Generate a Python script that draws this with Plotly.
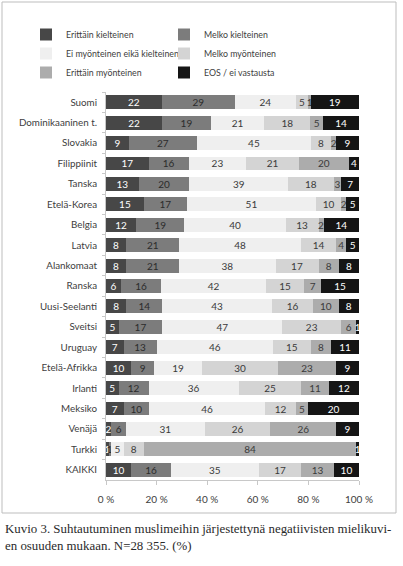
import plotly.graph_objects as go

countries = ["Suomi", "Dominikaaninen t.", "Slovakia", "Filippiinit", "Tanska", "Etelä-Korea",
             "Belgia", "Latvia", "Alankomaat", "Ranska", "Uusi-Seelanti", "Sveitsi", "Uruguay",
             "Etelä-Afrikka", "Irlanti", "Meksiko", "Venäjä", "Turkki", "KAIKKI"]

erittain_kielteinen = [22, 22, 9, 17, 13, 15, 12, 8, 8, 6, 8, 5, 7, 10, 5, 7, 2, 1, 10]
melko_kielteinen = [29, 19, 27, 16, 20, 17, 19, 21, 21, 16, 14, 17, 13, 9, 12, 10, 6, 1, 16]
ei_kumpikaan = [24, 21, 45, 23, 39, 51, 40, 48, 38, 42, 43, 47, 46, 19, 36, 46, 31, 5, 35]
melko_myonteinen = [5, 18, 8, 21, 18, 10, 13, 14, 17, 15, 16, 23, 15, 30, 25, 12, 26, 8, 17]
erittain_myonteinen = [1, 5, 2, 20, 3, 2, 2, 4, 8, 7, 10, 6, 8, 23, 11, 5, 26, 84, 13]
eos = [19, 14, 9, 4, 7, 5, 14, 5, 8, 15, 8, 1, 11, 9, 12, 20, 9, 1, 10]

tick_vals = [0, 20, 40, 60, 80, 100]
tick_text = ["0 %", "20 %", "40 %", "60 %", "80 %", "100 %"]

series = [
    ("Erittäin kielteinen", erittain_kielteinen, "#474747", "white", "legend"),
    ("Melko kielteinen", melko_kielteinen, "#7c7c7c", "#2b2b2b", "legend2"),
    ("Ei myönteinen eikä kielteinen", ei_kumpikaan, "#efefef", "#3a3a3a", "legend"),
    ("Melko myönteinen", melko_myonteinen, "#d4d4d4", "#3a3a3a", "legend2"),
    ("Erittäin myönteinen", erittain_myonteinen, "#acacac", "#3a3a3a", "legend"),
    ("EOS / ei vastausta", eos, "#151515", "white", "legend2"),
]

FONT = "Lato, Open Sans, sans-serif"

fig = go.Figure()
for name, vals, col, tcol, lg in series:
    fig.add_trace(go.Bar(
        y=countries, x=vals, name=name, orientation="h",
        marker=dict(color=col, line=dict(width=0)),
        text=[str(v) for v in vals], textposition="inside", textangle=0,
        insidetextanchor="middle",
        textfont=dict(color=tcol, size=10, family=FONT),
        legend=lg,
    ))

W, H = 403, 566
L, R, T, B = 106, 44, 92, 86
pw, ph = W - L - R, H - T - B

def px(x):
    return (x - L) / pw

def py(y):
    return (H - B - y) / ph

fig.update_layout(
    width=W, height=H,
    margin=dict(l=L, r=R, t=T, b=B),
    barmode="stack", barnorm="percent", bargap=0.32,
    paper_bgcolor="white", plot_bgcolor="white",
    font=dict(family=FONT, size=9.8, color="#404040"),
    uniformtext=dict(minsize=10, mode="show"),
    xaxis=dict(range=[0, 100], tickvals=tick_vals, ticktext=tick_text, automargin=False,
               showgrid=False, zeroline=False, showline=True, linecolor="#c8c8c8",
               ticks="outside", ticklen=4, tickcolor="#c8c8c8",
               tickfont=dict(size=10, color="#404040"), ticklabelstandoff=6),
    yaxis=dict(autorange="reversed", showgrid=False, zeroline=False, automargin=False,
               showline=True, linecolor="#c8c8c8", ticks="outside", ticklen=3,
               tickcolor="#c8c8c8", tickson="boundaries",
               tickfont=dict(size=9.8, color="#404040"), ticklabelstandoff=6),
    legend=dict(x=px(26), y=py(20), xanchor="left", yanchor="top",
                orientation="v", traceorder="normal", itemwidth=30,
                font=dict(size=8.8, color="#404040"), tracegroupgap=0,
                bgcolor="rgba(0,0,0,0)"),
    legend2=dict(x=px(164), y=py(20), xanchor="left", yanchor="top",
                 orientation="v", traceorder="normal", itemwidth=30,
                 font=dict(size=8.8, color="#404040"), tracegroupgap=0,
                 bgcolor="rgba(0,0,0,0)"),
    shapes=[dict(type="rect", xref="paper", yref="paper",
                 x0=px(2), x1=px(396), y0=py(513), y1=py(2),
                 line=dict(color="#bdbdbd", width=1), fillcolor="rgba(0,0,0,0)",
                 layer="below")],
    annotations=[dict(
        xref="paper", yref="paper", x=px(3), y=py(520), xanchor="left", yanchor="top",
        align="left", showarrow=False,
        text="Kuvio 3. Suhtautuminen muslimeihin järjestettynä negatiivisten mielikuvi-<br>en osuuden mukaan. N=28 355. (%)",
        font=dict(family="Liberation Serif, serif", size=12.9, color="#2a2a2a"))],
)

fig.write_html("out.html", config={"displayModeBar": False},
               post_script="document.body.style.margin='0';")
